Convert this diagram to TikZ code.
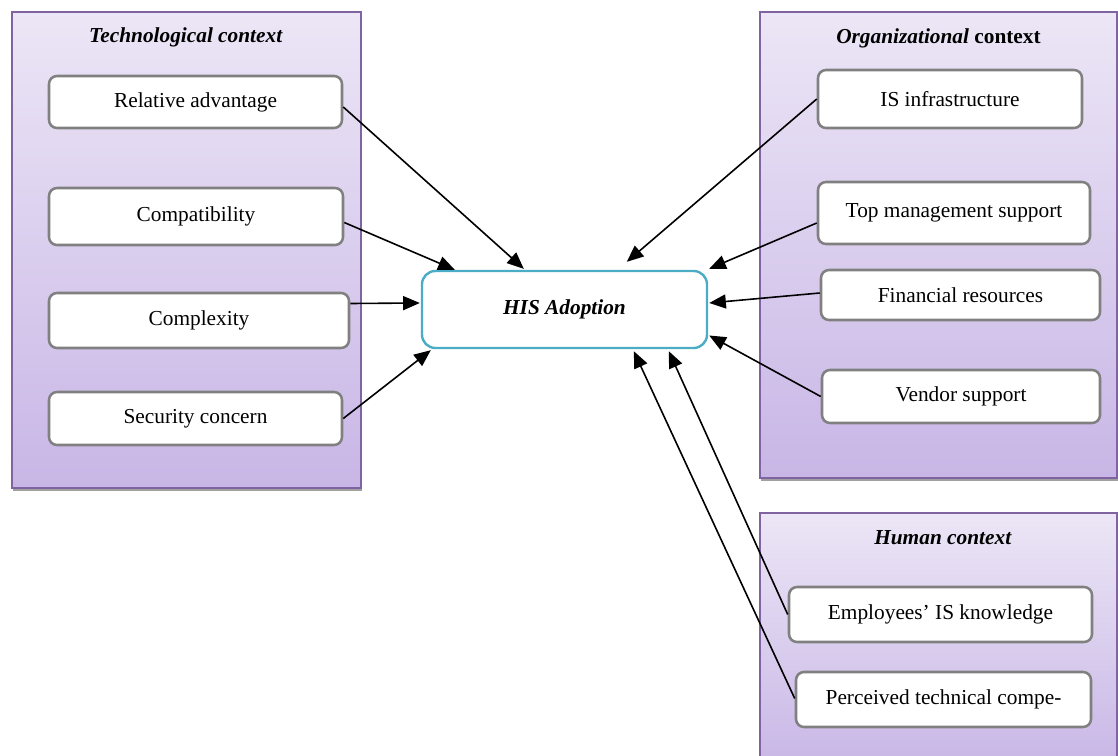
\documentclass[tikz,border=0pt]{standalone}
\usepackage{fontspec}
\setmainfont{Liberation Serif}
\usetikzlibrary{arrows.meta,calc,shadows}
\definecolor{pborder}{RGB}{128,100,162}
\definecolor{ptop}{RGB}{236,230,246}
\definecolor{pbot}{RGB}{200,182,230}
\definecolor{bgray}{RGB}{128,128,128}
\definecolor{hiscyan}{RGB}{75,172,198}
\definecolor{shadowgray}{RGB}{160,160,160}
\begin{document}
\begin{tikzpicture}[x=0.75pt,y=-0.75pt,
  panel/.style={draw=pborder, line width=1.1pt, top color=ptop, bottom color=pbot, inner sep=0pt,
    drop shadow={shadow xshift=1pt, shadow yshift=-2.5pt, fill=shadowgray, opacity=1}},
  factor/.style={draw=bgray, line width=1.9pt, fill=white, rounded corners=6pt,
    font=\fontsize{16}{19}\selectfont, inner sep=0pt},
  hisbox/.style={draw=hiscyan, line width=1.8pt, fill=white, rounded corners=10pt,
    font=\fontsize{16}{19}\selectfont\bfseries\itshape, inner sep=0pt},
  ptitle/.style={font=\fontsize{16}{19}\selectfont\bfseries, inner sep=0pt},
  link/.style={-{Triangle[length=12.5pt,width=10.5pt]}, line width=1.2pt, black}
]
\clip (0,0) rectangle (1118,756);
\fill[white] (0,0) rectangle (1118,756);

% panels
\node[panel, minimum width=349*0.75pt, minimum height=476*0.75pt] (tech) at (186.5,250) {};
\node[panel, minimum width=357*0.75pt, minimum height=466*0.75pt] (org) at (938.5,245) {};
\node[panel, minimum width=357*0.75pt, minimum height=257*0.75pt] (hum) at (938.5,641.5) {};

% titles
\node[ptitle] (ttech) at (186,37) {\textit{Technological context}};
\node[ptitle] (torg) at (938.5,38) {\textit{Organizational} context};
\node[ptitle] (thum) at (943,538) {\textit{Human context}};

% technological factors
\node[factor, minimum width=293*0.75pt, minimum height=52*0.75pt] (ra) at (195.5,102) {Relative advantage};
\node[factor, minimum width=294*0.75pt, minimum height=57*0.75pt] (comp) at (196,216.5) {Compatibility};
\node[factor, minimum width=300*0.75pt, minimum height=55*0.75pt] (cplx) at (199,320.5) {Complexity};
\node[factor, minimum width=293*0.75pt, minimum height=53*0.75pt] (sec) at (195.5,418.5) {Security concern};

% organizational factors
\node[factor, minimum width=264*0.75pt, minimum height=58*0.75pt] (isi) at (950,99) {IS infrastructure};
\node[factor, minimum width=272*0.75pt, minimum height=62*0.75pt] (tms) at (954,213) {Top management support};
\node[factor, minimum width=279*0.75pt, minimum height=50*0.75pt] (fin) at (960.5,295) {Financial resources};
\node[factor, minimum width=278*0.75pt, minimum height=53*0.75pt] (ven) at (961,396.5) {Vendor support};

% human factors
\node[factor, minimum width=303*0.75pt, minimum height=55*0.75pt] (emp) at (940.5,614.5) {Employees’ IS knowledge};
\node[factor, minimum width=295*0.75pt, minimum height=55*0.75pt] (per) at (943.5,699.5) {Perceived technical compe-};

% central node
\node[hisbox, minimum width=285*0.75pt, minimum height=77*0.75pt] (his) at (564.5,309.5) {HIS Adoption};

% connectors
\draw[link] ($(ra.east)+(0,5)$) -- ($(his.north west)+(103,-1)$);
\draw[link] ($(comp.east)+(0,6)$) -- ($(his.north west)+(34,0)$);
\draw[link] ($(cplx.east)+(0,-17)$) -- ($(his.west)+(-1,-6.5)$);
\draw[link] (sec.east) -- ($(his.south west)+(10,1)$);
\draw[link] (isi.west) -- ($(his.north west)+(206,-8)$);
\draw[link] ($(tms.west)+(0,10)$) -- ($(his.north east)+(1,-1)$);
\draw[link] ($(fin.west)+(0,-2)$) -- ($(his.east)+(1,-6.5)$);
\draw[link] (ven.west) -- ($(his.east)+(1,26)$);
\draw[link] (emp.west) -- ($(his.south west)+(248,2)$);
\draw[link] ($(per.west)+(0,-1)$) -- ($(his.south west)+(213,2)$);
\end{tikzpicture}
\end{document}
